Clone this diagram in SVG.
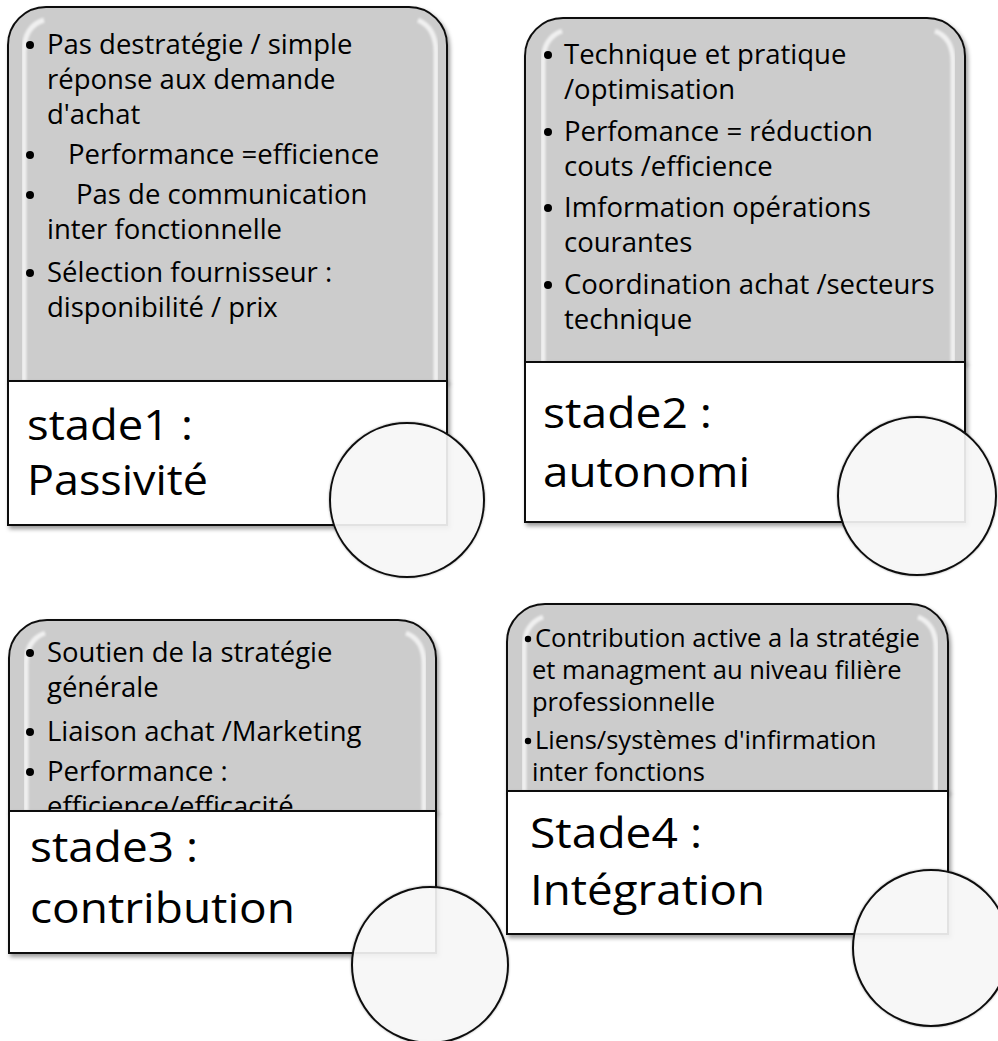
<svg xmlns="http://www.w3.org/2000/svg" width="998" height="1041" viewBox="0 0 998 1041">
  <defs>
    <filter id="shadow" x="-5%" y="-5%" width="115%" height="115%">
      <feDropShadow dx="2" dy="3" stdDeviation="2" flood-color="#000" flood-opacity="0.4"/>
    </filter>
    <filter id="soft" x="-10%" y="-10%" width="120%" height="120%">
      <feGaussianBlur stdDeviation="1.2"/>
    </filter>
    <filter id="ringShadow" x="-10%" y="-10%" width="120%" height="120%">
      <feDropShadow dx="0" dy="0" stdDeviation="1" flood-color="#000" flood-opacity="0.35"/>
    </filter>
    <!-- keeps the overflowing last item of stage 3 inside its grey area -->
    <clipPath id="clip3">
      <rect x="9" y="620" width="427" height="191"/>
    </clipPath>
  </defs>
  <style>
    .card { fill: #cccccc; stroke: #111; stroke-width: 2; }
    .label-box { fill: #ffffff; stroke: #111; stroke-width: 2; }
    .gloss { fill: none; stroke: #ffffff; stroke-width: 5; stroke-opacity: 0.7; filter: url(#soft); }
    .item { font-family: "Open Sans", "Noto Sans", sans-serif; font-size: 27.5px; fill: #000; }
    .item-sm { font-family: "Open Sans", "Noto Sans", sans-serif; font-size: 25.5px; fill: #000; }
    .dot { fill: #000; }
    .title { font-family: "Open Sans", "Noto Sans", sans-serif; font-size: 42px; fill: #000; }
    .ring { fill: #fafafa; fill-opacity: 0.88; stroke: #111; stroke-width: 2; filter: url(#ringShadow); }
  </style>

  <rect width="998" height="1041" fill="#ffffff"/>

  <!-- Stage 1 -->
  <g id="stade1">
    <g filter="url(#shadow)">
      <path class="card" d="M8,381 V45 A38,38 0 0 1 46,7 H409 A38,38 0 0 1 447,45 V381 Z"/>
    </g>
    <path class="gloss" d="M24,381 V52 Q24,26 44,20"/>
    <path class="gloss" d="M436,381 V52 Q436,28 418,20"/>
    <circle class="dot" cx="30" cy="45" r="4"/>
    <text class="item" x="47" y="54">Pas destratégie / simple</text>
    <text class="item" x="47" y="89">réponse aux demande</text>
    <text class="item" x="47" y="124">d'achat</text>
    <circle class="dot" cx="30" cy="155" r="4"/>
    <text class="item" x="68" y="164">Performance =efficience</text>
    <circle class="dot" cx="30" cy="195" r="4"/>
    <text class="item" x="76" y="204">Pas de communication</text>
    <text class="item" x="47" y="239">inter fonctionnelle</text>
    <circle class="dot" cx="30" cy="273" r="4"/>
    <text class="item" x="47" y="282">Sélection fournisseur :</text>
    <text class="item" x="47" y="317">disponibilité / prix</text>
    <rect class="label-box" x="8" y="381" width="439" height="144" filter="url(#shadow)"/>
    <text class="title" x="27" y="440" textLength="166" lengthAdjust="spacingAndGlyphs">stade1 :</text>
    <text class="title" x="27" y="495" textLength="181" lengthAdjust="spacingAndGlyphs">Passivité</text>
    <circle class="ring" cx="407" cy="500" r="77"/>
  </g>

  <!-- Stage 2 -->
  <g id="stade2">
    <g filter="url(#shadow)">
      <path class="card" d="M525,362 V56 A38,38 0 0 1 563,18 H927 A38,38 0 0 1 965,56 V362 Z"/>
    </g>
    <path class="gloss" d="M543,362 V62 Q543,38 562,31"/>
    <path class="gloss" d="M953,362 V62 Q953,38 935,31"/>
    <circle class="dot" cx="548" cy="55" r="4"/>
    <text class="item" x="564" y="64">Technique et pratique</text>
    <text class="item" x="564" y="99">/optimisation</text>
    <circle class="dot" cx="548" cy="132" r="4"/>
    <text class="item" x="564" y="141">Perfomance = réduction</text>
    <text class="item" x="564" y="176">couts /efficience</text>
    <circle class="dot" cx="548" cy="208" r="4"/>
    <text class="item" x="564" y="217">Imformation opérations</text>
    <text class="item" x="564" y="252">courantes</text>
    <circle class="dot" cx="548" cy="285" r="4"/>
    <text class="item" x="564" y="294">Coordination achat /secteurs</text>
    <text class="item" x="564" y="329">technique</text>
    <rect class="label-box" x="525" y="362" width="440" height="160" filter="url(#shadow)"/>
    <text class="title" x="543" y="428" textLength="169" lengthAdjust="spacingAndGlyphs">stade2 :</text>
    <text class="title" x="543" y="487" textLength="207" lengthAdjust="spacingAndGlyphs">autonomi</text>
    <circle class="ring" cx="917" cy="496" r="79"/>
  </g>

  <!-- Stage 3 -->
  <g id="stade3">
    <g filter="url(#shadow)">
      <path class="card" d="M9,811 V658 A38,38 0 0 1 47,620 H398 A38,38 0 0 1 436,658 V811 Z"/>
    </g>
    <path class="gloss" d="M26,811 V664 Q26,640 45,633"/>
    <path class="gloss" d="M424,811 V664 Q424,640 406,633"/>
    <circle class="dot" cx="30" cy="653" r="4"/>
    <text class="item" x="47" y="662">Soutien de la stratégie</text>
    <text class="item" x="47" y="697">générale</text>
    <circle class="dot" cx="30" cy="732" r="4"/>
    <text class="item" x="47" y="741">Liaison achat /Marketing</text>
    <circle class="dot" cx="30" cy="772" r="4"/>
    <text class="item" x="47" y="781">Performance :</text>
    <g clip-path="url(#clip3)">
      <text class="item" x="47" y="816">efficience/efficacité</text>
    </g>
    <rect class="label-box" x="9" y="811" width="427" height="142" filter="url(#shadow)"/>
    <text class="title" x="30" y="862" textLength="168" lengthAdjust="spacingAndGlyphs">stade3 :</text>
    <text class="title" x="30" y="923" textLength="265" lengthAdjust="spacingAndGlyphs">contribution</text>
    <circle class="ring" cx="430" cy="965" r="78"/>
  </g>

  <!-- Stage 4 -->
  <g id="stade4">
    <g filter="url(#shadow)">
      <path class="card" d="M507,791 V642 A38,38 0 0 1 545,604 H910 A38,38 0 0 1 948,642 V791 Z"/>
    </g>
    <path class="gloss" d="M524,791 V648 Q524,624 543,617"/>
    <path class="gloss" d="M936,791 V648 Q936,624 918,617"/>
    <circle class="dot" cx="528" cy="639" r="3.2"/>
    <text class="item-sm" x="535" y="647">Contribution active a la stratégie</text>
    <text class="item-sm" x="532" y="679">et managment au niveau filière</text>
    <text class="item-sm" x="532" y="711">professionnelle</text>
    <circle class="dot" cx="528" cy="741" r="3.2"/>
    <text class="item-sm" x="535" y="749">Liens/systèmes d'infirmation</text>
    <text class="item-sm" x="532" y="781">inter fonctions</text>
    <rect class="label-box" x="507" y="791" width="441" height="143" filter="url(#shadow)"/>
    <text class="title" x="530" y="848" textLength="172" lengthAdjust="spacingAndGlyphs">Stade4 :</text>
    <text class="title" x="530" y="905" textLength="235" lengthAdjust="spacingAndGlyphs">Intégration</text>
    <circle class="ring" cx="931" cy="948" r="78"/>
  </g>

  <!-- The stages are standalone cards; no connectors link them -->
  <g id="connectors"/>
</svg>
